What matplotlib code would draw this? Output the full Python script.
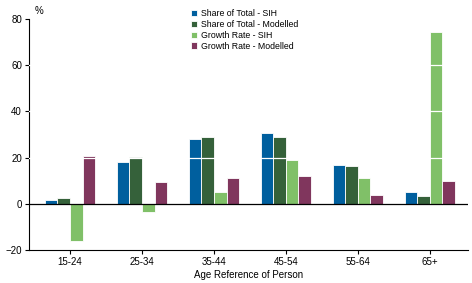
import numpy as np
import matplotlib.pyplot as plt

plt.rcParams['font.family'] = ['Liberation Sans', 'DejaVu Sans']

# Datos
ages = ['15-24', '25-34', '35-44', '45-54', '55-64', '65+']
share_sih = [1.7, 18.0, 28.0, 30.5, 17.0, 5.3]
share_mod = [2.6, 20.3, 29.0, 28.7, 16.2, 3.5]
growth_sih = [-16.0, -3.7, 5.0, 18.8, 11.3, 74.5]
growth_mod = [20.5, 9.3, 11.0, 12.2, 4.0, 10.0]

series = [
    ('Share of Total - SIH', share_sih, '#005f9e'),
    ('Share of Total - Modelled', share_mod, '#35613a'),
    ('Growth Rate - SIH', growth_sih, '#80c068'),
    ('Growth Rate - Modelled', growth_mod, '#80365d'),
]

fig = plt.figure(figsize=(4.72, 2.83), dpi=100)
ax = fig.add_axes([0.0614, 0.1166, 0.930, 0.8164])

x = np.arange(len(ages))
w = 0.175
for i, (name, vals, col) in enumerate(series):
    ax.bar(x + (i - 1.5) * w, vals, width=w, color=col, edgecolor='white',
           linewidth=0.6, label=name, zorder=2)

# lineas blancas de la cuadricula sobre las barras
for yv in [20, 40, 60]:
    ax.axhline(yv, color='white', linewidth=0.9, zorder=3)
ax.axhline(0, color='black', linewidth=0.9, zorder=4)

ax.set_xlim(-0.57, 5.53)
ax.set_ylim(-20, 80)
ax.set_yticks([-20, 0, 20, 40, 60, 80])
ax.set_yticklabels(['\u221220', '0', '20', '40', '60', '80'])
ax.set_xticks(x)
ax.set_xticklabels(ages)
ax.tick_params(axis='both', labelsize=7, length=3, width=0.8, pad=2)
ax.set_xlabel('Age Reference of Person', fontsize=7, labelpad=2)

for s in ['top', 'right']:
    ax.spines[s].set_visible(False)
ax.spines['left'].set_linewidth(0.8)
ax.spines['bottom'].set_linewidth(0.8)

fig.text(0.083, 0.962, '%', fontsize=7, ha='center', va='center')

ax.legend(loc='upper left', bbox_to_anchor=(0.36, 1.057), fontsize=6.3,
          frameon=False, handlelength=0.7, handleheight=0.7,
          handletextpad=0.5, labelspacing=0.2, borderaxespad=0)

fig.savefig('out.png', dpi=100)
